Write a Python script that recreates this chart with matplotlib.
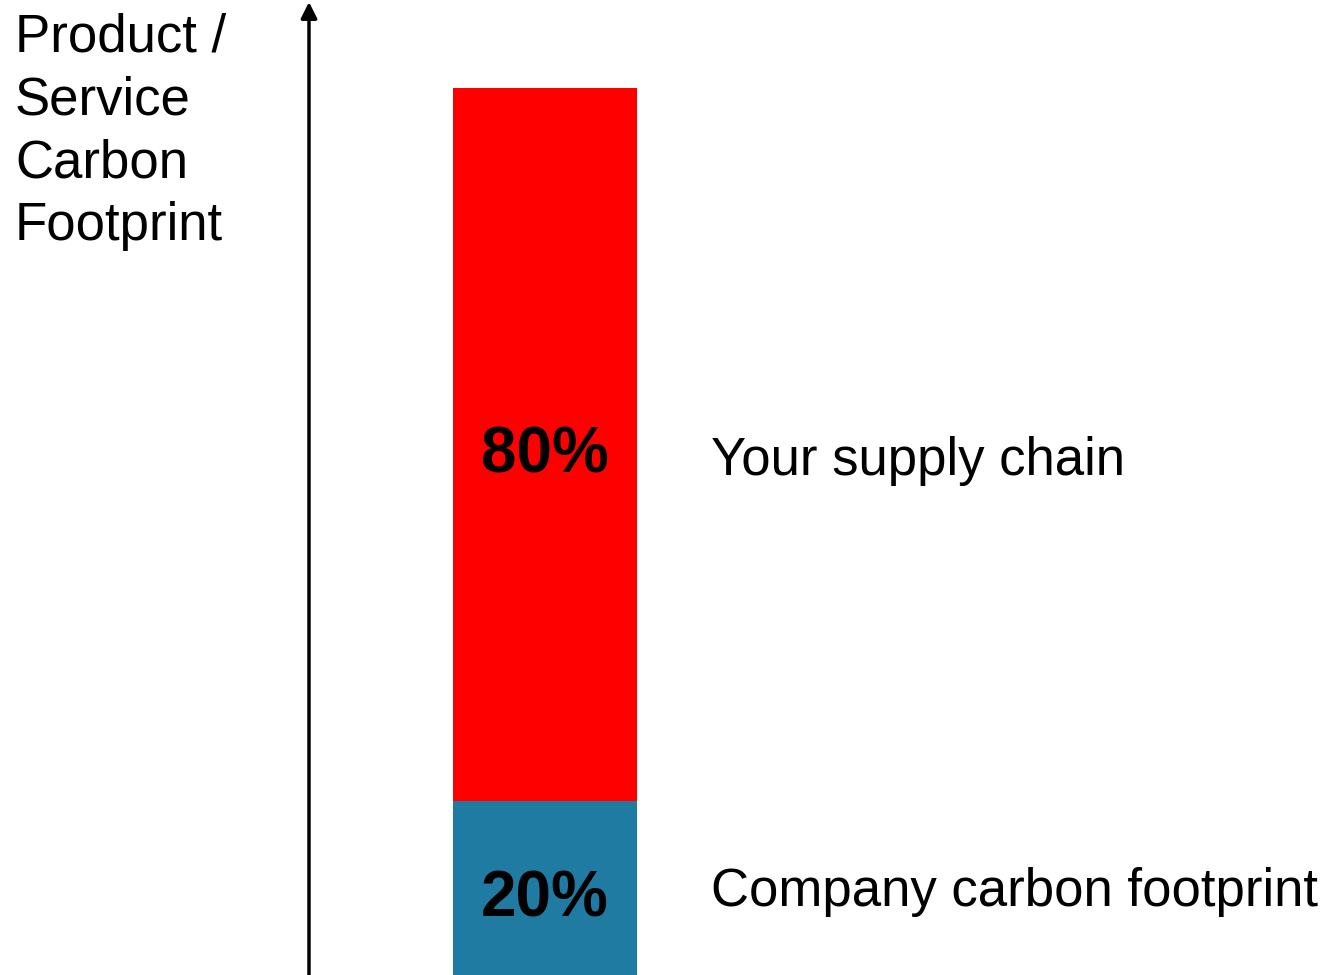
import matplotlib
matplotlib.use("Agg")
import matplotlib.pyplot as plt

plt.rcParams['font.family'] = ['Liberation Sans', 'DejaVu Sans']

# stacked shares of the footprint, bottom to top
segments = ["Company carbon footprint", "Your supply chain"]
shares = [20, 80]
colors = ["#1f7ba2", "#ff0000"]
share_labels = ["20%", "80%"]
axis_label = "Product /\nService\nCarbon\nFootprint"

# label nudges below segment middle, in pixels
pct_drop = [26, 28]
name_drop = [16, 30]

fig = plt.figure(figsize=(13.32, 9.75), dpi=100)
ax = fig.add_axes([0, 0, 1, 1])

bottom = 0
for i in range(len(segments)):
    val = shares[i]
    ax.bar(0, val, width=1, bottom=bottom, color=colors[i], align='center')
    mid = bottom + val / 2
    ax.annotate(share_labels[i], xy=(0, mid), xytext=(0, -pct_drop[i]),
                textcoords='offset pixels', ha='center', va='baseline',
                fontsize=46, fontweight='bold')
    ax.annotate(segments[i], xy=(0.9, mid), xytext=(0, -name_drop[i]),
                textcoords='offset pixels', ha='left', va='baseline',
                fontsize=38)
    bottom += val

# red top sits at 88px, bar spans 453..637px, bottom of blue runs a bit off the page
px_per_unit = 713 / 80
y0 = shares[0] - 174 / px_per_unit
ax.set_ylim(y0, y0 + 975 / px_per_unit)
ax.set_xlim(-545 / 184, (1332 - 545) / 184)
ax.axis('off')

# vertical arrow axis
ax.annotate("", xy=(309 / 1332, 1 - 2 / 975), xytext=(309 / 1332, 0),
            xycoords='figure fraction', textcoords='figure fraction',
            arrowprops=dict(arrowstyle='-|>', color='black', lw=2.5,
                            mutation_scale=24, shrinkA=0, shrinkB=0))

fig.text(15 / 1332, 1 - 12 / 975, axis_label, ha='left', va='top',
         fontsize=38, linespacing=1.335)

fig.savefig("out.png", dpi=100)
